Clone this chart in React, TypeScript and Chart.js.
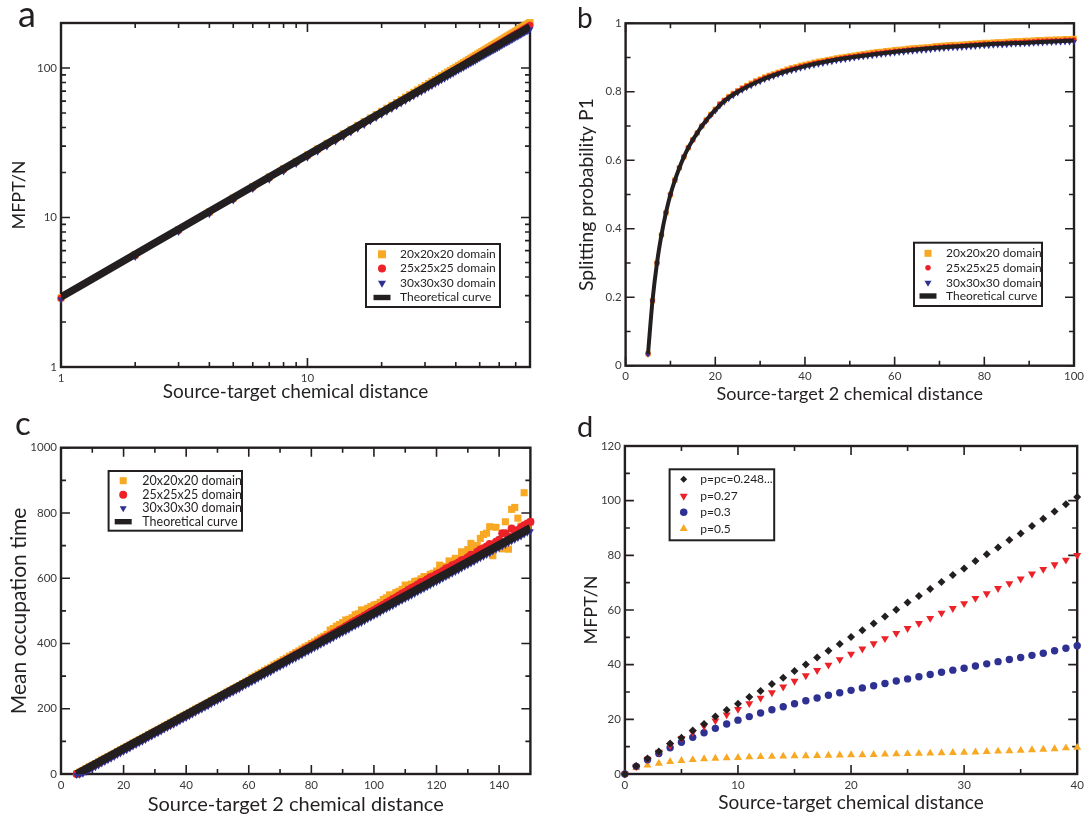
import React, { useEffect, useRef } from 'react';
import { Chart, registerables } from 'chart.js';
Chart.register(...registerables);

const FONT = "Lato, 'Open Sans', sans-serif";
const ORANGE = '#F8A823';
const RED = '#EC2228';
const BLUE = '#2E3192';
const BLACK = '#231F20';
const TICK_COLOR = '#3A3A3A';
Chart.defaults.font.family = FONT;

// ---------------- Panel a (log-log) ----------------
const aX = [1,2,3,4,5,6,7,8,9,10,11,12,13,14,15,16,17,18,19,20,21,22,23,24,25,26,27,28,29,30,31,32,33,34,35,36,37,38,39,40,41,42,43,44,45,46,47,48,49,50,51,52,53,54,55,56,57,58,59,60,61,62,63,64,65,66,67,68,69,70,71,72,73,74,75,76,77,78,79,80];
const aOrange = [2.9,5.65,8.3,10.9,13.5,16.1,18.7,21.2,23.7,26.2,28.8,31.3,33.8,36.3,38.8,41.3,43.8,46.3,48.8,51.3,53.8,56.3,58.8,61.3,63.8,66.3,68.8,71.3,73.8,76.3,78.8,81.3,83.8,86.3,88.8,91.3,93.8,96.3,98.8,101.3,103.8,106.3,108.8,111.3,113.8,116.3,118.8,121.3,123.8,126.3,128.8,131.3,133.8,136.3,138.8,141.3,143.8,146.3,148.8,151.3,153.8,156.3,158.8,161.3,163.8,166.3,168.8,171.3,173.8,176.3,178.8,181.3,183.8,186.3,188.8,191.3,193.8,196.3,198.8,201.3];
const aRed = [2.88,5.55,8.2,10.8,13.3,15.9,18.4,20.9,23.4,25.9,28.4,30.9,33.3,35.8,38.2,40.7,43.1,45.5,48.0,50.4,52.8,55.2,57.6,60.0,62.4,64.8,67.2,69.6,72.0,74.4,76.8,79.2,81.6,84.0,86.4,88.8,91.2,93.6,96.0,98.4,100.8,103.2,105.6,108.0,110.4,112.8,115.2,117.6,120.0,122.4,124.7,127.1,129.4,131.8,134.1,136.5,138.8,141.2,143.5,145.9,148.2,150.6,152.9,155.3,157.6,160.0,162.3,164.7,167.0,169.4,171.7,174.1,176.4,178.8,181.1,183.5,185.8,188.2,190.5,192.9];
const aBlue = [2.83,5.45,8.0,10.5,13.0,15.5,17.9,20.3,22.8,25.1,27.5,29.9,32.3,34.6,37.0,39.3,41.6,44.0,46.3,48.6,50.9,53.2,55.5,57.8,60.1,62.4,64.6,66.9,69.2,71.4,73.7,75.9,78.2,80.4,82.7,84.9,87.2,89.4,91.6,93.9,96.1,98.3,100.5,102.8,105.0,107.2,109.4,111.6,113.9,116.1,118.3,120.5,122.6,124.8,127.0,129.2,131.4,133.5,135.7,137.9,140.1,142.3,144.5,146.7,148.8,151.0,153.2,155.4,157.5,159.7,161.9,164.0,166.2,168.4,170.5,172.7,174.8,177.0,179.1,181.3];
const aTheoryX = [1,2,3,5,7,10,15,20,30,40,50,60,70,80];
const aTheoryY = [2.94,5.68,8.35,13.56,18.67,26.2,38.51,50.62,74.41,97.8,120.9,143.7,166.4,188.9];

// ---------------- Panel b ----------------
const bX = [5,6,7,8,9,10,11,12,13,14,15,16,17,18,19,20,21,22,23,24,25,26,27,28,29,30,31,32,33,34,35,36,37,38,39,40,41,42,43,44,45,46,47,48,49,50,51,52,53,54,55,56,57,58,59,60,61,62,63,64,65,66,67,68,69,70,71,72,73,74,75,76,77,78,79,80,81,82,83,84,85,86,87,88,89,90,91,92,93,94,95,96,97,98,99,100];
const bOrange = [0.035,0.19,0.30,0.382,0.447,0.50,0.542,0.578,0.61,0.637,0.66,0.68,0.70,0.718,0.734,0.749,0.764,0.775,0.786,0.795,0.803,0.811,0.818,0.825,0.832,0.837,0.843,0.848,0.852,0.857,0.861,0.866,0.870,0.873,0.877,0.880,0.883,0.886,0.889,0.891,0.894,0.896,0.899,0.901,0.903,0.905,0.907,0.909,0.911,0.913,0.915,0.917,0.918,0.920,0.921,0.923,0.924,0.925,0.927,0.928,0.929,0.930,0.931,0.932,0.934,0.935,0.936,0.937,0.938,0.938,0.939,0.940,0.941,0.942,0.943,0.944,0.944,0.945,0.946,0.946,0.947,0.948,0.949,0.949,0.950,0.950,0.951,0.952,0.952,0.953,0.953,0.954,0.954,0.955,0.955,0.956];
const bRed = [0.035,0.19,0.30,0.382,0.447,0.50,0.542,0.578,0.61,0.637,0.66,0.68,0.70,0.717,0.733,0.748,0.764,0.775,0.785,0.794,0.802,0.810,0.817,0.823,0.830,0.835,0.841,0.846,0.850,0.855,0.859,0.863,0.867,0.870,0.874,0.877,0.880,0.883,0.886,0.888,0.891,0.893,0.896,0.898,0.900,0.902,0.904,0.906,0.908,0.909,0.911,0.913,0.914,0.916,0.917,0.919,0.920,0.921,0.923,0.924,0.925,0.926,0.927,0.928,0.930,0.931,0.932,0.933,0.934,0.934,0.935,0.936,0.937,0.938,0.939,0.940,0.940,0.941,0.942,0.942,0.943,0.944,0.945,0.945,0.946,0.946,0.947,0.948,0.948,0.949,0.949,0.950,0.950,0.951,0.951,0.952];
const bBlue = [0.033,0.188,0.298,0.38,0.445,0.498,0.54,0.576,0.608,0.635,0.658,0.678,0.698,0.714,0.73,0.743,0.758,0.769,0.779,0.788,0.796,0.804,0.811,0.817,0.824,0.829,0.835,0.840,0.844,0.849,0.853,0.857,0.861,0.864,0.868,0.871,0.874,0.877,0.880,0.882,0.885,0.887,0.890,0.892,0.894,0.896,0.898,0.900,0.902,0.903,0.905,0.907,0.908,0.910,0.911,0.913,0.914,0.915,0.917,0.918,0.919,0.920,0.921,0.922,0.924,0.925,0.926,0.927,0.928,0.928,0.929,0.930,0.931,0.932,0.933,0.934,0.934,0.935,0.936,0.936,0.937,0.938,0.939,0.939,0.940,0.940,0.941,0.942,0.942,0.943,0.943,0.944,0.944,0.945,0.945,0.946];
const bTheoryX = [5,6,7,8,9,10,11,12,13,14,15,16,17,18,19,20,22,25,30,35,40,45,50,60,70,80,90,100];
const bTheoryY = [0.035,0.19,0.30,0.382,0.447,0.50,0.542,0.578,0.61,0.637,0.66,0.68,0.70,0.717,0.733,0.747,0.773,0.80,0.833,0.857,0.875,0.889,0.90,0.917,0.929,0.938,0.944,0.95];

// ---------------- Panel c ----------------
const cX = [5,6,7,8,9,10,11,12,13,14,15,16,17,18,19,20,21,22,23,24,25,26,27,28,29,30,31,32,33,34,35,36,37,38,39,40,41,42,43,44,45,46,47,48,49,50,51,52,53,54,55,56,57,58,59,60,61,62,63,64,65,66,67,68,69,70,71,72,73,74,75,76,77,78,79,80,81,82,83,84,85,86,87,88,89,90,91,92,93,94,95,96,97,98,99,100,101,102,103,104,105,106,107,108,109,110,111,112,113,114,115,116,117,118,119,120,121,122,123,124,125,126,127,128,129,130,131,132,133,134,135,136,137,138,139,140,141,142,143,144,145,146,147,148,149,150];
const cOrange = [1,6,11,17,22,27,32,37,43,48,53,58,63,69,74,79,84,89,95,100,105,110,115,121,126,131,136,141,147,152,157,162,167,173,178,183,188,193,199,204,209,214,219,225,230,235,240,245,251,256,261,266,271,277,282,287,295,300,306,311,317,322,327,334,339,344,350,355,361,366,372,377,383,389,394,400,405,411,417,422,428,441,446,453,458,464,472,474,479,488,491,503,500,508,513,518,520,526,535,540,549,548,556,560,566,579,576,582,590,592,598,605,604,612,615,622,640,636,608,653,650,661,660,681,672,688,707,690,700,722,734,738,758,669,756,711,690,773,689,811,817,784,760,862,750,772];
const cRed = [0,3,8,14,19,24,29,34,40,45,50,55,60,66,71,76,81,86,92,97,102,107,112,118,123,128,133,138,144,149,154,159,164,170,175,180,185,190,196,201,206,211,216,222,227,232,237,242,248,253,258,263,268,274,279,285,290,296,301,306,312,317,322,328,333,339,344,349,355,360,366,371,376,382,387,393,398,404,409,415,420,425,431,436,442,447,453,458,464,470,475,480,486,491,497,502,508,513,519,525,530,536,541,547,553,558,565,570,575,581,588,590,597,603,606,612,617,622,630,633,640,643,648,655,657,664,672,670,681,688,692,697,705,700,712,718,738,738,728,752,745,748,756,762,768,773];
const cBlue = [-3,-2,1,6,11,16,21,26,32,37,42,47,52,58,63,68,73,78,84,89,94,99,104,110,115,120,125,130,136,141,146,151,156,162,167,172,177,182,188,193,198,203,208,214,219,224,229,234,240,245,250,255,260,266,271,276,281,286,292,297,302,307,312,318,323,328,333,338,344,349,354,359,364,370,375,380,385,390,396,401,406,411,416,422,427,432,437,442,448,453,458,463,468,474,479,484,489,494,500,505,510,515,520,526,531,536,541,546,552,557,562,567,572,578,583,588,593,598,604,609,614,619,624,630,635,640,645,650,656,661,666,671,676,682,687,692,697,702,708,713,718,723,728,734,739,744];
const cTheoryX = [5,150];
const cTheoryY = [0,754];

// ---------------- Panel d ----------------
const dX = [0,1,2,3,4,5,6,7,8,9,10,11,12,13,14,15,16,17,18,19,20,21,22,23,24,25,26,27,28,29,30,31,32,33,34,35,36,37,38,39,40];
const dPc = [0,2.9,5.7,8.2,11.2,13.3,15.9,18.3,21.0,23.4,25.7,28.2,30.4,32.9,35.2,37.7,40.1,42.6,45.1,47.6,50.1,52.6,55.1,57.6,60.1,62.7,65.1,67.7,70.2,72.8,75.2,77.9,80.4,82.9,85.6,88.0,90.7,93.4,96.0,98.7,101.3];
const dP027 = [0,2.7,5.5,8.0,10.5,13.0,15.3,17.5,19.5,21.7,23.7,25.8,27.8,29.8,31.9,34.0,36.0,37.9,39.9,41.9,43.9,45.8,47.7,49.6,51.5,53.3,55.1,57.0,58.9,60.6,62.4,64.3,66.0,67.9,69.7,71.4,73.2,74.9,76.6,78.3,80.0];
const dP03 = [0,2.8,5.2,7.5,9.6,11.6,13.4,15.1,16.7,18.3,19.7,21.0,22.3,23.5,24.6,25.7,26.8,27.8,28.8,29.7,30.6,31.5,32.3,33.1,34.0,34.8,35.6,36.4,37.2,38.0,38.7,39.5,40.3,41.1,41.9,42.6,43.4,44.2,45.1,46.0,46.9];
const dP05 = [0,2.3,3.2,3.9,4.5,4.9,5.2,5.5,5.7,5.9,6.0,6.2,6.3,6.4,6.5,6.6,6.6,6.7,6.8,6.9,7.0,7.0,7.1,7.2,7.3,7.4,7.5,7.6,7.7,7.8,7.9,8.0,8.2,8.3,8.4,8.6,8.8,9.0,9.2,9.5,9.7];

// tick values
const aXTicks = [1, 10];
const aXMinor = [2,3,4,5,6,7,8,9,20,30,40,50,60,70,80];
const aYTicks = [1, 10, 100];
const aYMinor = [2,3,4,5,6,7,8,9,20,30,40,50,60,70,80,90];
const bXTicks = [0,20,40,60,80,100];
const bXMinor = [10,30,50,70,90];
const bYTicks = [0,0.2,0.4,0.6,0.8,1];
const bYMinor = [0.1,0.3,0.5,0.7,0.9];
const cXTicks = [0,20,40,60,80,100,120,140];
const cXMinor = [10,30,50,70,90,110,130];
const cYTicks = [0,200,400,600,800,1000];
const cYMinor = [100,300,500,700,900];
const dXTicks = [0,10,20,30,40];
const dXMinor = [5,15,25,35];
const dYTicks = [0,20,40,60,80,100,120];
const dYMinor = [10,30,50,70,90,110];

const DOMAIN_LABELS = ['20x20x20 domain', '25x25x25 domain', '30x30x30 domain', 'Theoretical curve'];
const D_LABELS = ['p=pc=0.248...', 'p=0.27', 'p=0.3', 'p=0.5'];

type Shape = 'rect' | 'circle' | 'triDown' | 'triUp' | 'diamond' | 'line';

function drawShape(ctx: CanvasRenderingContext2D, shape: Shape, x: number, y: number, s: number, color: string) {
  ctx.fillStyle = color;
  ctx.beginPath();
  if (shape === 'rect') {
    ctx.rect(x - s / 2, y - s / 2, s, s);
  } else if (shape === 'circle') {
    ctx.arc(x, y, s / 2, 0, Math.PI * 2);
  } else if (shape === 'triDown') {
    const h = s * 0.87;
    ctx.moveTo(x - s / 2, y - h / 3);
    ctx.lineTo(x + s / 2, y - h / 3);
    ctx.lineTo(x, y + (2 * h) / 3);
    ctx.closePath();
  } else if (shape === 'triUp') {
    const h = s * 0.87;
    ctx.moveTo(x - s / 2, y + h / 3);
    ctx.lineTo(x + s / 2, y + h / 3);
    ctx.lineTo(x, y - (2 * h) / 3);
    ctx.closePath();
  } else if (shape === 'diamond') {
    ctx.moveTo(x, y - s / 2);
    ctx.lineTo(x + s / 2, y);
    ctx.lineTo(x, y + s / 2);
    ctx.lineTo(x - s / 2, y);
    ctx.closePath();
  } else {
    ctx.rect(x - 8.5, y - 2.7, 17, 5.4);
  }
  ctx.fill();
}

const pts = (xs: number[], ys: number[]) => xs.map((x, i) => ({ x, y: ys[i] }));

function markers(label: string, xs: number[], ys: number[], color: string, style: string, r: number, rot: number, order: number) {
  return {
    label, data: pts(xs, ys), backgroundColor: color, borderColor: color, borderWidth: 0,
    pointStyle: style, pointRadius: r, pointHoverRadius: r, pointRotation: rot,
    showLine: false, clip: false as any, order,
  };
}

function curve(label: string, xs: number[], ys: number[], w: number, order: number) {
  return {
    label, data: pts(xs, ys), borderColor: BLACK, backgroundColor: BLACK, borderWidth: w,
    pointRadius: 0, pointHoverRadius: 0, showLine: true, cubicInterpolationMode: 'monotone' as const,
    borderCapStyle: 'butt' as const, order,
  };
}

function axis(o: {
  type: string; min: number; max: number; ticks: number[]; fmt: (v: number) => string;
  title: string; size: number; pad: number; fixed: number; vertical: boolean;
}) {
  return {
    type: o.type, min: o.min, max: o.max, position: o.vertical ? 'left' : 'bottom',
    grid: { display: false, drawTicks: false },
    border: { display: false },
    afterBuildTicks: (s: any) => { s.ticks = o.ticks.map((v) => ({ value: v })); },
    afterFit: (s: any) => { if (o.vertical) s.width = o.fixed; else s.height = o.fixed; },
    ticks: {
      autoSkip: false, maxRotation: 0, minRotation: 0, padding: 4, color: TICK_COLOR,
      font: { size: 11.5, family: FONT }, callback: (v: any) => o.fmt(Number(v)),
    },
    title: {
      display: true, text: o.title, color: BLACK, font: { size: o.size, family: FONT },
      padding: o.vertical ? { top: o.pad, bottom: 0 } : { top: 0, bottom: o.pad },
    },
  };
}

function framePlugin(xMaj: number[], xMin: number[], yMaj: number[], yMin: number[]) {
  return {
    id: 'frame',
    beforeDatasetsDraw(chart: any) {
      const { ctx, chartArea: a, scales } = chart;
      const xs = scales.x, ys = scales.y;
      ctx.save();
      ctx.strokeStyle = BLACK;
      ctx.lineWidth = 1.6;
      ctx.beginPath();
      const vx = (vals: number[], len: number) => vals.forEach((v) => {
        const p = xs.getPixelForValue(v);
        ctx.moveTo(p, a.bottom); ctx.lineTo(p, a.bottom - len);
        ctx.moveTo(p, a.top); ctx.lineTo(p, a.top + len);
      });
      const hy = (vals: number[], len: number) => vals.forEach((v) => {
        const p = ys.getPixelForValue(v);
        ctx.moveTo(a.left, p); ctx.lineTo(a.left + len, p);
        ctx.moveTo(a.right, p); ctx.lineTo(a.right - len, p);
      });
      vx(xMaj, 9); vx(xMin, 5); hy(yMaj, 9); hy(yMin, 5);
      ctx.stroke();
      ctx.lineWidth = 2.4;
      ctx.strokeRect(a.left, a.top, a.right - a.left, a.bottom - a.top);
      ctx.restore();
    },
  };
}

type LegendItem = { label: string; shape: Shape; color: string; s: number };
function legendPlugin(box: number[], mx: number, tx: number, rows: number[], size: number, items: LegendItem[]) {
  return {
    id: 'boxLegend',
    afterDatasetsDraw(chart: any) {
      const ctx = chart.ctx as CanvasRenderingContext2D;
      ctx.save();
      const [x1, y1, x2, y2] = box;
      ctx.fillStyle = '#ffffff';
      ctx.fillRect(x1, y1, x2 - x1, y2 - y1);
      ctx.lineWidth = 2;
      ctx.strokeStyle = BLACK;
      ctx.strokeRect(x1, y1, x2 - x1, y2 - y1);
      items.forEach((it, i) => {
        drawShape(ctx, it.shape, mx, rows[i], it.s, it.color);
        ctx.fillStyle = BLACK;
        ctx.font = `${size}px ${FONT}`;
        ctx.textBaseline = 'middle';
        ctx.textAlign = 'left';
        ctx.fillText(it.label, tx, rows[i]);
      });
      ctx.restore();
    },
  };
}

function letterPlugin(letter: string, x: number, y: number, size: number) {
  return {
    id: 'panelLetter',
    afterDraw(chart: any) {
      const ctx = chart.ctx as CanvasRenderingContext2D;
      ctx.save();
      ctx.fillStyle = BLACK;
      ctx.font = `${size}px ${FONT}`;
      ctx.textBaseline = 'alphabetic';
      ctx.textAlign = 'left';
      ctx.fillText(letter, x, y);
      ctx.restore();
    },
  };
}

const num = (v: number) => String(v);
const dec = (v: number) => (v === 0 || v === 1 ? String(v) : v.toFixed(1));

function baseOptions(pad: { left: number; top: number; right: number; bottom: number }, x: any, y: any) {
  return {
    responsive: false, animation: false as const, devicePixelRatio: 1,
    layout: { padding: pad },
    plugins: { legend: { display: false }, tooltip: { enabled: false } },
    events: [] as any[],
    scales: { x, y },
  };
}

function configA() {
  return {
    type: 'scatter' as const,
    data: {
      datasets: [
        curve(DOMAIN_LABELS[3], aTheoryX, aTheoryY, 7.5, 0),
        markers(DOMAIN_LABELS[2], aX, aBlue, BLUE, 'triangle', 4, 180, 1),
        markers(DOMAIN_LABELS[1], aX, aRed, RED, 'circle', 3.5, 0, 2),
        markers(DOMAIN_LABELS[0], aX, aOrange, ORANGE, 'rect', 5, 0, 3),
      ],
    },
    options: baseOptions({ left: 0, top: 23, right: 14, bottom: 0 },
      axis({ type: 'logarithmic', min: 1, max: 80, ticks: aXTicks, fmt: num, title: 'Source-target chemical distance', size: 19, pad: 6.6, fixed: 43, vertical: false }),
      axis({ type: 'logarithmic', min: 1, max: 200, ticks: aYTicks, fmt: num, title: 'MFPT/N', size: 18, pad: 8.2, fixed: 61, vertical: true })),
    plugins: [
      framePlugin(aXTicks, aXMinor, aYTicks, aYMinor),
      legendPlugin([366, 244, 500, 307], 382, 400, [254.3, 268.5, 283, 297.5], 12, [
        { label: DOMAIN_LABELS[0], shape: 'rect', color: ORANGE, s: 8 },
        { label: DOMAIN_LABELS[1], shape: 'circle', color: RED, s: 8 },
        { label: DOMAIN_LABELS[2], shape: 'triDown', color: BLUE, s: 8 },
        { label: DOMAIN_LABELS[3], shape: 'line', color: BLACK, s: 8 },
      ]),
      letterPlugin('a', 18, 26.7, 36),
    ],
  };
}

function configB() {
  return {
    type: 'scatter' as const,
    data: {
      datasets: [
        curve(DOMAIN_LABELS[3], bTheoryX, bTheoryY, 4, 0),
        markers(DOMAIN_LABELS[2], bX, bBlue, BLUE, 'triangle', 3.3, 180, 1),
        markers(DOMAIN_LABELS[1], bX, bRed, RED, 'circle', 2.5, 0, 2),
        markers(DOMAIN_LABELS[0], bX, bOrange, ORANGE, 'rect', 3.8, 0, 3),
      ],
    },
    options: baseOptions({ left: 0, top: 23.3, right: 11.5, bottom: 0 },
      axis({ type: 'linear', min: 0, max: 100, ticks: bXTicks, fmt: num, title: 'Source-target 2 chemical distance', size: 18, pad: 5.2, fixed: 44.3, vertical: false }),
      axis({ type: 'linear', min: 0, max: 1, ticks: bYTicks, fmt: dec, title: 'Splitting probability P1', size: 19.4, pad: 30.7, fixed: 81.6, vertical: true })),
    plugins: [
      framePlugin(bXTicks, bXMinor, bYTicks, bYMinor),
      legendPlugin([370, 242.7, 498, 306], 384, 402, [253.3, 267.7, 282.7, 296], 12, [
        { label: DOMAIN_LABELS[0], shape: 'rect', color: ORANGE, s: 7 },
        { label: DOMAIN_LABELS[1], shape: 'circle', color: RED, s: 5.5 },
        { label: DOMAIN_LABELS[2], shape: 'triDown', color: BLUE, s: 7 },
        { label: DOMAIN_LABELS[3], shape: 'line', color: BLACK, s: 7 },
      ]),
      letterPlugin('b', 33, 28.3, 28),
    ],
  };
}

function configC() {
  return {
    type: 'scatter' as const,
    data: {
      datasets: [
        curve(DOMAIN_LABELS[3], cTheoryX, cTheoryY, 8, 0),
        markers(DOMAIN_LABELS[2], cX, cBlue, BLUE, 'triangle', 4, 180, 1),
        markers(DOMAIN_LABELS[1], cX, cRed, RED, 'circle', 4, 0, 2),
        markers(DOMAIN_LABELS[0], cX, cOrange, ORANGE, 'rect', 5, 0, 3),
      ],
    },
    options: baseOptions({ left: 0, top: 37.7, right: 13.6, bottom: 0 },
      axis({ type: 'linear', min: 0, max: 150, ticks: cXTicks, fmt: num, title: 'Source-target 2 chemical distance', size: 20, pad: 2.5, fixed: 45, vertical: false }),
      axis({ type: 'linear', min: 0, max: 1000, ticks: cYTicks, fmt: num, title: 'Mean occupation time', size: 21, pad: 6.5, fixed: 61, vertical: true })),
    plugins: [
      framePlugin(cXTicks, cXMinor, cYTicks, cYMinor),
      legendPlugin([108.6, 61, 242, 120.7], 123.2, 142.3, [70.7, 84.7, 98.3, 111.7], 12.5, [
        { label: DOMAIN_LABELS[0], shape: 'rect', color: ORANGE, s: 7 },
        { label: DOMAIN_LABELS[1], shape: 'circle', color: RED, s: 8 },
        { label: DOMAIN_LABELS[2], shape: 'triDown', color: BLUE, s: 7 },
        { label: DOMAIN_LABELS[3], shape: 'line', color: BLACK, s: 7 },
      ]),
      letterPlugin('c', 15, 25, 33),
    ],
  };
}

function configD() {
  return {
    type: 'scatter' as const,
    data: {
      datasets: [
        markers(D_LABELS[0], dX, dPc, BLACK, 'rectRot', 4, 0, 0),
        markers(D_LABELS[1], dX, dP027, RED, 'triangle', 4.6, 180, 1),
        markers(D_LABELS[2], dX, dP03, BLUE, 'circle', 3.7, 0, 2),
        markers(D_LABELS[3], dX, dP05, ORANGE, 'triangle', 4.6, 0, 3),
      ],
    },
    options: baseOptions({ left: 0, top: 36, right: 10.8, bottom: 0 },
      axis({ type: 'linear', min: 0, max: 40, ticks: dXTicks, fmt: num, title: 'Source-target chemical distance', size: 19, pad: 5.1, fixed: 45, vertical: false }),
      axis({ type: 'linear', min: 0, max: 120, ticks: dYTicks, fmt: num, title: 'MFPT/N', size: 18, pad: 36.2, fixed: 80.9, vertical: true })),
    plugins: [
      framePlugin(dXTicks, dXMinor, dYTicks, dYMinor),
      legendPlugin([125.6, 59.3, 230.2, 130.3], 139.7, 156.3, [69.3, 86, 102.3, 118.7], 12, [
        { label: D_LABELS[0], shape: 'diamond', color: BLACK, s: 7 },
        { label: D_LABELS[1], shape: 'triDown', color: RED, s: 8 },
        { label: D_LABELS[2], shape: 'circle', color: BLUE, s: 7.5 },
        { label: D_LABELS[3], shape: 'triUp', color: ORANGE, s: 8 },
      ]),
      letterPlugin('d', 33, 26.7, 29),
    ],
  };
}

function Panel(props: { left: number; top: number; width: number; height: number; build: () => any }) {
  const ref = useRef<HTMLCanvasElement>(null);
  useEffect(() => {
    const chart = new Chart(ref.current as HTMLCanvasElement, props.build());
    return () => chart.destroy();
  }, []);
  return (
    <canvas
      ref={ref}
      width={props.width}
      height={props.height}
      style={{ position: 'absolute', left: props.left, top: props.top, width: props.width, height: props.height }}
    />
  );
}

export default function App() {
  return (
    <div style={{ position: 'fixed', left: 0, top: 0, width: 1088, height: 819, background: '#ffffff', overflow: 'hidden' }}>
      <Panel left={0} top={0} width={544} height={410} build={configA} />
      <Panel left={544} top={0} width={544} height={410} build={configB} />
      <Panel left={0} top={410} width={544} height={409} build={configC} />
      <Panel left={544} top={410} width={544} height={409} build={configD} />
    </div>
  );
}
